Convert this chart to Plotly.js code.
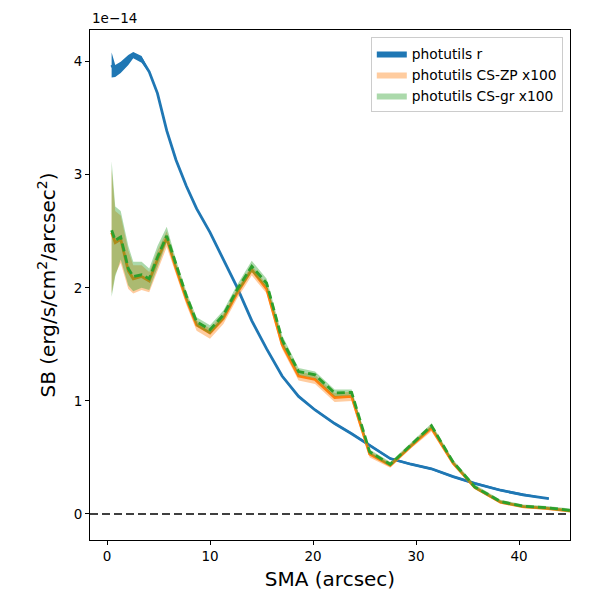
<!DOCTYPE html>
<html>
<head>
<meta charset="utf-8">
<script src="https://cdn.plot.ly/plotly-3.0.1.min.js"></script>
<style>
body{margin:0;background:#fff}
#chart{width:600px;height:600px}
</style>
</head>
<body>
<div id="chart"></div>
<script>

// SB values in units of 1e-14 erg/s/cm2/arcsec2
let sma=[0.45,0.8,1.33,2.07,2.55,3.36,4.1,4.9,5.8,6.7,7.7,8.7,10.0,11.3,12.6,14.05,15.5,17.0,18.6,20.2,22.1,23.75,25.5,27.5,29.5,31.5,33.6,35.7,38.2,40.4,42.7,45.2]

let smaR=[0.45,0.8,1.33,2.07,2.55,3.36,4.1,4.9,5.8,6.7,7.7,8.7,10.0,11.3,12.6,14.05,15.5,17.0,18.6,20.2,22.1,23.75,25.5,27.5,29.5,31.5,33.6,35.7,38.2,40.4,42.9]

let sbR=[3.97,3.92,3.95,4.01,4.06,4.02,3.91,3.72,3.39,3.13,2.90,2.70,2.49,2.25,2.01,1.71,1.46,1.22,1.04,0.92,0.80,0.71,0.61,0.49,0.44,0.40,0.33,0.27,0.21,0.17,0.135]
let sbRHi=[4.08,3.97,4.00,4.06,4.085,4.05,3.92,3.73,3.40,3.14,2.91,2.71,2.50,2.26,2.02,1.72,1.47,1.23,1.05,0.93,0.81,0.72,0.62,0.50,0.45,0.41,0.34,0.28,0.22,0.18,0.14]
let sbRLo=[3.86,3.865,3.90,3.97,4.03,3.99,3.90,3.71,3.38,3.12,2.89,2.69,2.48,2.24,2.00,1.70,1.45,1.21,1.03,0.91,0.79,0.70,0.60,0.48,0.43,0.39,0.32,0.26,0.20,0.16,0.13]

let sbZP=[2.49,2.40,2.43,2.15,2.08,2.10,2.06,2.25,2.44,2.17,1.90,1.67,1.60,1.73,1.95,2.16,1.99,1.50,1.22,1.19,1.03,1.04,0.53,0.43,0.60,0.76,0.45,0.235,0.105,0.065,0.05,0.025]
let sbZPHi=[3.05,2.68,2.64,2.33,2.20,2.20,2.14,2.33,2.50,2.21,1.94,1.71,1.64,1.77,1.99,2.20,2.03,1.54,1.26,1.23,1.07,1.08,0.56,0.45,0.62,0.79,0.47,0.25,0.12,0.08,0.065,0.04]
let sbZPLo=[1.95,2.12,2.22,1.99,1.95,1.98,1.96,2.14,2.36,2.12,1.85,1.62,1.55,1.68,1.90,2.11,1.95,1.46,1.18,1.15,0.99,1.00,0.50,0.41,0.58,0.73,0.43,0.22,0.09,0.05,0.035,0.01]

let sbGR=[2.51,2.42,2.45,2.17,2.10,2.115,2.08,2.27,2.46,2.20,1.93,1.70,1.63,1.76,1.98,2.19,2.04,1.54,1.26,1.23,1.07,1.075,0.55,0.44,0.61,0.78,0.46,0.24,0.11,0.07,0.055,0.03]
let sbGRHi=[3.12,2.72,2.68,2.37,2.23,2.23,2.17,2.37,2.54,2.25,1.97,1.74,1.67,1.80,2.02,2.24,2.08,1.58,1.29,1.26,1.10,1.10,0.57,0.46,0.63,0.80,0.48,0.26,0.125,0.085,0.07,0.045]
let sbGRLo=[1.92,2.10,2.25,2.02,1.97,2.00,1.98,2.17,2.40,2.16,1.89,1.66,1.59,1.72,1.94,2.14,2.00,1.50,1.23,1.20,1.04,1.05,0.53,0.42,0.59,0.76,0.44,0.22,0.095,0.055,0.04,0.015]

let font="DejaVu Sans, sans-serif"

function band(x,lo,hi,color,name){
return [
{x:x,y:lo,mode:"lines",line:{width:0,color:color},showlegend:false,hoverinfo:"skip"},
{x:x,y:hi,mode:"lines",line:{width:0,color:color},fill:"tonexty",fillcolor:color,name:name,legendgroup:name}
]
}

function line(x,y,color,dash){
return {x:x,y:y,mode:"lines",line:{width:2.8,color:color,dash:dash},showlegend:false}
}

let traces=[].concat(
band(smaR,sbRLo,sbRHi,"#1f77b4","photutils r"),
[line(smaR,sbR,"#1f77b4","solid")],
band(sma,sbZPLo,sbZPHi,"rgba(255,127,14,0.4)","photutils CS-ZP x100"),
[line(sma,sbZP,"#ff7f0e","solid")],
band(sma,sbGRLo,sbGRHi,"rgba(44,160,44,0.4)","photutils CS-gr x100"),
[line(sma,sbGR,"#2ca02c","8px,4px")]
)

let axis={
showline:true,mirror:true,linecolor:"#000",linewidth:1,
ticks:"outside",ticklen:4,tickwidth:1,tickcolor:"#000",
showgrid:false,zeroline:false,
tickfont:{family:font,size:13.5,color:"#000"},
automargin:false
}

let layout={
width:600,height:600,
margin:{l:90,r:30,t:30,b:60},
paper_bgcolor:"#fff",plot_bgcolor:"#fff",
font:{family:font,color:"#000"},
xaxis:Object.assign({},axis,{
range:[-1.65,44.95],tickvals:[0,10,20,30,40],
title:{text:"SMA (arcsec)",font:{family:font,size:20},standoff:8}
}),
yaxis:Object.assign({},axis,{
range:[-0.23,4.28],tickvals:[0,1,2,3,4],
title:{text:"SB (erg/s/cm<sup>2</sup>/arcsec<sup>2</sup>)",font:{family:font,size:20},standoff:12}
}),
legend:{
x:0.585,y:0.986,xanchor:"left",yanchor:"top",
bgcolor:"rgba(255,255,255,0.8)",bordercolor:"#cccccc",borderwidth:1,
font:{family:font,size:13.8,color:"#000"},
tracegroupgap:0
},
shapes:[{
type:"line",xref:"paper",x0:0,x1:1,yref:"y",y0:0,y1:0,
line:{color:"#000",width:1.5,dash:"8px,4px"}
}],
annotations:[{
text:"1e\u221214",xref:"paper",yref:"paper",x:0,y:1,
xanchor:"left",yanchor:"bottom",yshift:2,showarrow:false,
font:{family:font,size:13.5,color:"#000"}
}]
}

Plotly.newPlot("chart",traces,layout,{displayModeBar:false,staticPlot:true})

</script>
</body>
</html>
